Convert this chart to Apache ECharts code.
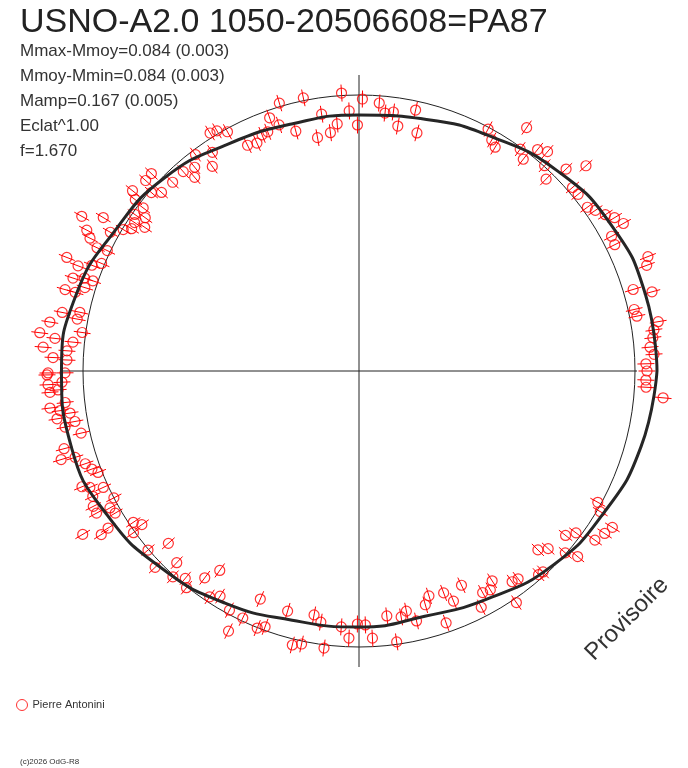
<!DOCTYPE html>
<html>
<head>
<meta charset="utf-8">
<title>USNO-A2.0 1050-20506608=PA87</title>
<script src="https://cdn.jsdelivr.net/npm/echarts@6/dist/echarts.min.js"></script>
<style>
html, body {
	margin: 0;
	padding: 0;
	background: #fff;
}
#chart {
	width: 688px;
	height: 768px;
}
</style>
</head>
<body>
<div id="chart"></div>
<script type="text/javascript">
    // star name and fit results
    var starName = 'USNO-A2.0 1050-20506608=PA87';
    var statLines = [
        'Mmax-Mmoy=0.084 (0.003)',
        'Mmoy-Mmin=0.084 (0.003)',
        'Mamp=0.167 (0.005)',
        'Eclat^1.00',
        'f=1.670'
    ];
    var observer = 'Pierre Antonini';
    var credit = '(c)2026 OdG-R8';
    var stamp = 'Provisoire';

    // mean level (reference circle) and error bar half size, in mag
    var meanDm = 0;
    var errMag = 0.034;

    // cross hair: phase of each arm and how far it reaches (mag)
    var crossPhase = [0, 0.25, 0.5, 0.75];
    var crossReach = [0.008, 0.08, 0.084, 0.08];

    // fitted curve: phase / brightness offset from the mean (mag)
    var fitPhase = [0, 0.0417, 0.0833, 0.125, 0.1667, 0.2083, 0.25, 0.2917, 0.3333, 0.375, 0.4167, 0.4583,
                    0.5, 0.5417, 0.5833, 0.625, 0.6667, 0.7083, 0.75, 0.7917, 0.8333, 0.875, 0.9167, 0.9583, 1];
    var fitDm = [0.088, 0.082, 0.062, 0.024, -0.026, -0.062, -0.080, -0.080, -0.056, -0.008, 0.022, 0.068,
                 0.086, 0.086, 0.056, 0.012, -0.032, -0.072, -0.080, -0.088, -0.056, -0.006, 0.028, 0.064, 0.088];

    // observations [phase, offset mag]
    var obsEast = [
        [0.060, 0.139], [0.056, 0.122], [0.046, 0.040], [0.042, 0.110], [0.035, 0.024], [0.031, 0.029],
        [0.026, 0.109], [0.022, 0.087], [0.018, 0.079], [0.013, 0.064], [0.009, 0.078], [0.004, 0.044],
        [0.000, 0.048], [0.995, 0.044], [0.991, 0.046], [0.986, 0.117],
        [0.137, 0.053], [0.133, 0.003], [0.127, -0.032], [0.123, 0.053], [0.117, 0.120], [0.113, 0.022],
        [0.108, 0.022], [0.099, 0.020], [0.095, 0.039], [0.090, 0.063], [0.086, 0.088], [0.081, 0.107],
        [0.078, 0.041], [0.073, 0.037]
    ];
    var obsNorth = [
        [0.260, 0.010], [0.282, 0.011], [0.296, 0.014], [0.248, -0.016], [0.238, -0.029], [0.256, -0.063],
        [0.273, -0.066], [0.304, -0.030], [0.300, -0.069], [0.291, -0.112], [0.278, -0.156], [0.269, -0.144],
        [0.264, -0.112], [0.251, -0.120], [0.234, -0.067], [0.229, -0.059], [0.225, -0.112], [0.216, -0.036],
        [0.212, -0.124], [0.172, -0.007], [0.167, -0.038], [0.163, -0.056], [0.154, 0.078], [0.150, -0.007],
        [0.145, -0.032], [0.142, 0.034], [0.339, 0.019], [0.335, 0.012], [0.330, -0.012], [0.323, -0.097],
        [0.317, -0.105], [0.312, -0.083], [0.308, -0.080], [0.353, -0.019], [0.344, -0.051], [0.349, -0.097],
        [0.358, -0.057], [0.362, -0.088], [0.365, -0.041]
    ];
    var obsWest = [
        [0.374, -0.043], [0.379, 0.042], [0.384, 0.040], [0.383, -0.039], [0.387, -0.009], [0.393, 0.054],
        [0.396, 0.023], [0.397, -0.022], [0.403, -0.010], [0.401, -0.052], [0.407, -0.028], [0.406, -0.072],
        [0.414, -0.004], [0.411, -0.031], [0.419, 0.166], [0.414, 0.089], [0.424, 0.122], [0.427, 0.096],
        [0.419, 0.035], [0.430, 0.054],
        [0.429, 0.012], [0.437, 0.012], [0.441, 0.150], [0.440, 0.045], [0.443, 0.096], [0.450, 0.099],
        [0.448, 0.055], [0.448, 0.020], [0.453, 0.042], [0.457, 0.116], [0.457, 0.074], [0.469, 0.106],
        [0.467, 0.037], [0.475, 0.148], [0.471, 0.042], [0.481, 0.182], [0.483, 0.119], [0.484, 0.046],
        [0.478, 0.014], [0.488, 0.163], [0.493, 0.121], [0.489, 0.067], [0.494, 0.065], [0.501, 0.140],
        [0.501, 0.072],
        [0.502, 0.144], [0.507, 0.141], [0.506, 0.085], [0.511, 0.135], [0.510, 0.102], [0.517, 0.078],
        [0.519, 0.141], [0.521, 0.102], [0.523, 0.064], [0.525, 0.119], [0.528, 0.050], [0.530, 0.093],
        [0.535, 0.035], [0.541, 0.116], [0.546, 0.139], [0.547, 0.083], [0.552, 0.052], [0.556, 0.034],
        [0.559, 0.016], [0.563, 0.097], [0.565, 0.069], [0.568, 0.020], [0.570, 0.073], [0.576, 0.000],
        [0.575, 0.089], [0.579, 0.090], [0.580, 0.033], [0.584, 0.025], [0.585, 0.180], [0.590, 0.117],
        [0.589, 0.080], [0.594, -0.017], [0.598, -0.040], [0.599, 0.006], [0.612, 0.003], [0.622, 0.028],
        [0.617, -0.076], [0.629, -0.046], [0.633, 0.006], [0.639, -0.022], [0.643, 0.004], [0.648, -0.072],
        [0.653, -0.131], [0.657, -0.021], [0.662, -0.046]
    ];
    var obsSouth = [
        [0.671, -0.016], [0.676, 0.060], [0.680, -0.012], [0.690, 0.002], [0.694, -0.014], [0.685, -0.110],
        [0.704, -0.102], [0.712, 0.024], [0.717, 0.012], [0.721, -0.112], [0.726, -0.088], [0.730, 0.013],
        [0.739, -0.078], [0.744, -0.035], [0.749, -0.092], [0.754, -0.088], [0.758, -0.034], [0.768, -0.118],
        [0.772, -0.010], [0.777, -0.106], [0.781, -0.125], [0.786, -0.078], [0.794, -0.132], [0.798, -0.162],
        [0.808, -0.154], [0.812, -0.109], [0.803, -0.038], [0.821, -0.154], [0.831, -0.089], [0.836, -0.083],
        [0.840, -0.110], [0.826, -0.040], [0.850, -0.062], [0.854, -0.057], [0.845, 0.016], [0.865, -0.018],
        [0.868, -0.014], [0.875, -0.092], [0.880, -0.066], [0.885, -0.004], [0.888, 0.043], [0.901, 0.057],
        [0.893, -0.048], [0.898, -0.021], [0.907, 0.074], [0.912, 0.087], [0.920, -0.014], [0.916, 0.013]
    ];

    var obs = obsEast.concat(obsNorth, obsWest, obsSouth);
    // polar data is [radius, angle]
    var obsData = obs.map(function (d) { return [d[1], d[0]]; });
    var fitData = fitPhase.map(function (p, i) { return [fitDm[i], p]; });
    var crossData = crossPhase.map(function (p, i) { return [crossReach[i], p]; });

    var myChart = echarts.init(document.getElementById('chart'));

    var font = 'Liberation Sans, Arial, sans-serif';
    var red = '#ff0000';

    option = {
        animation: false,
        backgroundColor: '#fff',
        title: [{
            text: starName,
            left: 20,
            top: 6,
            padding: 0,
            textStyle: {fontFamily: font, fontSize: 34, fontWeight: 'normal', color: '#222'}
        }, {
            text: statLines.join('\n'),
            left: 20,
            top: 39,
            padding: 0,
            textStyle: {fontFamily: font, fontSize: 17, fontWeight: 'normal', color: '#333', lineHeight: 25}
        }, {
            text: credit,
            left: 20,
            top: 758,
            padding: 0,
            textStyle: {fontFamily: font, fontSize: 8, fontWeight: 'normal', color: '#333'}
        }],
        legend: {
            data: [observer],
            left: 16,
            top: 699,
            padding: 0,
            itemWidth: 11,
            itemHeight: 11,
            icon: 'circle',
            itemStyle: {color: 'transparent', borderColor: red, borderWidth: 1},
            textStyle: {fontFamily: font, fontSize: 11, color: '#333'}
        },
        graphic: [{
            type: 'text',
            x: 627,
            y: 619,
            rotation: Math.PI / 4,
            style: {
                text: stamp,
                font: '24px ' + font,
                fill: '#333',
                align: 'center',
                verticalAlign: 'middle'
            }
        }],
        polar: {
            center: [359, 371],
            radius: 326
        },
        angleAxis: {
            type: 'value',
            min: 0,
            max: 1,
            startAngle: 0,
            clockwise: false,
            axisLine: {show: false},
            axisTick: {show: false},
            axisLabel: {show: false},
            splitLine: {show: false}
        },
        radiusAxis: {
            type: 'value',
            min: -1.104,
            max: 0.2,
            axisLine: {show: false},
            axisTick: {show: false},
            axisLabel: {show: false},
            splitLine: {show: false}
        },
        series: [{
            name: 'cross',
            type: 'custom',
            coordinateSystem: 'polar',
            silent: true,
            z: 1,
            data: crossData,
            renderItem: function (params, api) {
                var cs = params.coordSys;
                var p = api.coord([api.value(0), api.value(1)]);
                return {
                    type: 'line',
                    shape: {x1: cs.cx, y1: cs.cy, x2: p[0], y2: p[1]},
                    style: {stroke: '#222', lineWidth: 1}
                };
            }
        }, {
            name: 'mean',
            type: 'custom',
            coordinateSystem: 'polar',
            silent: true,
            z: 1,
            data: [[meanDm, 0]],
            renderItem: function (params, api) {
                var cs = params.coordSys;
                var p = api.coord([api.value(0), 0]);
                var r = Math.sqrt((p[0] - cs.cx) * (p[0] - cs.cx) + (p[1] - cs.cy) * (p[1] - cs.cy));
                return {
                    type: 'circle',
                    shape: {cx: cs.cx, cy: cs.cy, r: r},
                    style: {fill: 'none', stroke: '#222', lineWidth: 1}
                };
            }
        }, {
            name: 'errors',
            type: 'custom',
            coordinateSystem: 'polar',
            silent: true,
            z: 2,
            data: obsData,
            renderItem: function (params, api) {
                var dm = api.value(0);
                var ph = api.value(1);
                var a = api.coord([dm - errMag, ph]);
                var b = api.coord([dm + errMag, ph]);
                return {
                    type: 'line',
                    shape: {x1: a[0], y1: a[1], x2: b[0], y2: b[1]},
                    style: {stroke: red, lineWidth: 1}
                };
            }
        }, {
            name: observer,
            type: 'scatter',
            coordinateSystem: 'polar',
            symbol: 'circle',
            symbolSize: 10,
            z: 3,
            itemStyle: {color: 'transparent', borderColor: red, borderWidth: 1.2},
            data: obsData
        }, {
            name: 'fit',
            type: 'line',
            coordinateSystem: 'polar',
            smooth: true,
            showSymbol: false,
            z: 4,
            lineStyle: {color: '#262626', width: 3},
            data: fitData
        }]
    };

    myChart.setOption(option);
</script>
</body>
</html>
